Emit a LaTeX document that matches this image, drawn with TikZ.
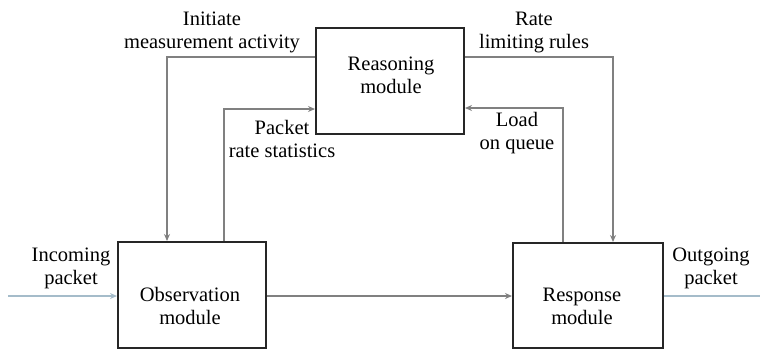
\documentclass[tikz,border=0pt]{standalone}
\usepackage{fontspec}
\setmainfont{Liberation Serif}
\usetikzlibrary{arrows.meta}
\definecolor{linegray}{RGB}{128,128,128}
\definecolor{paleblue}{RGB}{165,188,202}
\tikzset{
  modbox/.style={draw=black!85, line width=2pt, inner sep=0pt},
  lbl/.style={align=center, font=\fontsize{20.5}{23}\selectfont, inner sep=0pt},
  conn/.style={draw=linegray, line width=1.5pt, -{Stealth[length=7pt,width=6pt]}},
  ioconn/.style={draw=paleblue, line width=1.5pt},
}
\begin{document}
\begin{tikzpicture}[x=1pt,y=-1pt]
\useasboundingbox (0,0) rectangle (760,349);
\node[modbox, minimum width=148pt, minimum height=106pt] (reas) at (390,81) {};
\node[modbox, minimum width=148pt, minimum height=106pt] (obs) at (192,295) {};
\node[modbox, minimum width=150pt, minimum height=105pt] (resp) at (588,295.5) {};
\node[lbl] (reast) at (391,75) {Reasoning\\module};
\node[lbl] (obst) at (190,306) {Observation\\module};
\node[lbl] (respt) at (582,306) {Response\\module};
\coordinate (inL) at (8,296);
\coordinate (outR) at (760,296);
\coordinate (c1) at (167,57);
\coordinate (c2) at (224,109);
\coordinate (c3) at (613,57);
\coordinate (c4) at (563,108);
\draw[ioconn, -{Stealth[length=7pt,width=6pt]}] (inL) -- (obs.west |- inL);
\draw[conn] (obs.east |- inL) -- (resp.west |- inL);
\draw[ioconn] (resp.east |- outR) -- (outR);
\draw[conn] (reas.west |- c1) -- (c1) -- (obs.north -| c1);
\draw[conn] (obs.north -| c2) -- (c2) -- (reas.west |- c2);
\draw[conn] (reas.east |- c3) -- (c3) -- (resp.north -| c3);
\draw[conn] (resp.north -| c4) -- (c4) -- (reas.east |- c4);
\node[lbl] (t1) at (212,32) {Initiate\\measurement activity};
\node[lbl] (t2) at (534,32) {Rate\\limiting rules};
\node[lbl] (t3) at (282,139) {Packet\\rate statistics};
\node[lbl] (t4) at (517,133) {Load\\on queue};
\node[lbl] (t5) at (71,268) {Incoming\\packet};
\node[lbl] (t6) at (711,268) {Outgoing\\packet};
\end{tikzpicture}
\end{document}
